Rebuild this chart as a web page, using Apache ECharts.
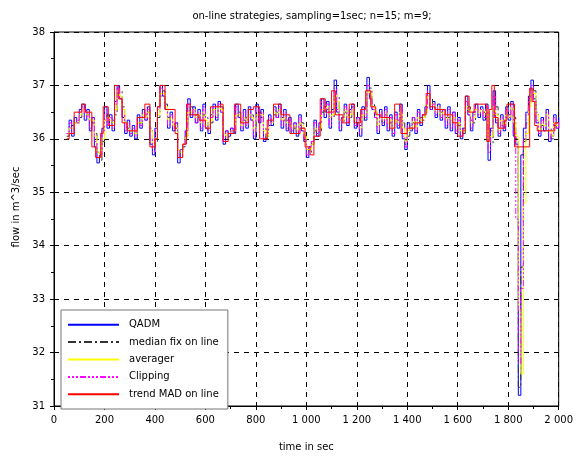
<!DOCTYPE html>
<html>
<head>
<meta charset="utf-8">
<script src="https://cdn.jsdelivr.net/npm/echarts@6/dist/echarts.min.js"></script>
<style>
  html, body { margin: 0; padding: 0; background: #fff; }
  #main { width: 576px; height: 457px; }
</style>
</head>
<body>
<div id="main"></div>
<script>
// sampling grid of the filtered signals: every 10 s from 50 s to 2000 s
const tStart = 50, tStep = 10;

const qadm = [
  36.10, 36.35, 36.05, 36.40, 36.30,
  36.55, 36.65, 36.35, 36.55, 36.15, 36.40, 35.85, 35.55, 35.70, 36.20,
  36.60, 36.20, 36.45, 36.15, 36.70, 37.00, 36.75, 36.40, 36.10, 36.35,
  36.05, 36.25, 36.00, 36.45, 36.20, 36.55, 36.35, 36.60, 35.90, 35.70,
  36.20, 36.60, 37.00, 36.80, 36.55, 36.20, 36.50, 36.15, 36.30, 35.55,
  35.80, 35.90, 36.15, 36.75, 36.40, 36.60, 36.30, 36.55, 36.15, 36.65,
  36.20, 36.10, 36.45, 36.65, 36.35, 36.70, 36.50, 35.90, 36.15, 36.05,
  36.20, 36.10, 36.65, 36.40, 36.15, 36.55, 36.20, 36.60, 36.35, 36.00,
  36.65, 36.30, 36.55, 35.95, 36.05, 36.45, 36.25, 36.60, 36.40, 36.65,
  36.20, 36.55, 36.15, 36.40, 36.10, 36.30, 36.05, 36.45, 36.15, 35.95,
  35.65, 35.85, 35.95, 36.35, 36.05, 36.30, 36.75, 36.40, 36.70, 36.20,
  36.55, 37.10, 36.50, 36.15, 36.40, 36.65, 36.25, 36.55, 36.65, 36.20,
  36.40, 36.05, 36.60, 36.35, 37.15, 36.75, 36.55, 36.40, 36.10, 36.55,
  36.25, 36.60, 36.15, 36.45, 36.05, 36.50, 36.20, 36.65, 36.00, 35.80,
  36.30, 36.15, 36.40, 36.10, 36.55, 36.25, 36.45, 36.60, 37.00, 36.55,
  36.70, 36.40, 36.65, 36.35, 36.55, 36.20, 36.60, 36.15, 36.50, 36.10,
  36.40, 36.00, 36.20, 36.80, 36.45, 36.15, 36.50, 36.65, 36.40, 36.60,
  36.35, 36.65, 35.60, 36.20, 36.90, 36.30, 36.05, 36.45, 36.15, 36.60,
  36.35, 36.70, 36.05, 35.90, 31.20, 35.70, 36.20, 36.50, 36.80, 37.10,
  36.75, 36.30, 36.05, 36.40, 36.15, 36.55, 35.95, 36.05, 36.45, 36.20,
  36.40
];

const medianFix = [
  36.05, 36.20, 36.25, 36.30, 36.35,
  36.40, 36.55, 36.50, 36.45, 36.35, 36.30, 36.10, 35.75, 35.60, 35.95,
  36.35, 36.45, 36.30, 36.35, 36.45, 36.85, 36.90, 36.60, 36.30, 36.20,
  36.20, 36.15, 36.10, 36.25, 36.30, 36.40, 36.45, 36.50, 36.20, 35.80,
  35.95, 36.40, 36.80, 36.90, 36.65, 36.40, 36.35, 36.30, 36.20, 35.80,
  35.65, 35.85, 36.05, 36.45, 36.60, 36.50, 36.45, 36.40, 36.35, 36.45,
  36.40, 36.15, 36.30, 36.55, 36.50, 36.55, 36.60, 36.15, 36.00, 36.10,
  36.15, 36.15, 36.40, 36.50, 36.30, 36.35, 36.40, 36.40, 36.45, 36.20,
  36.35, 36.50, 36.40, 36.20, 36.00, 36.25, 36.35, 36.45, 36.50, 36.55,
  36.40, 36.35, 36.35, 36.30, 36.25, 36.20, 36.15, 36.25, 36.30, 36.05,
  35.80, 35.75, 35.90, 36.15, 36.20, 36.15, 36.50, 36.60, 36.55, 36.45,
  36.40, 36.80, 36.80, 36.35, 36.30, 36.50, 36.45, 36.40, 36.60, 36.40,
  36.30, 36.25, 36.35, 36.50, 36.85, 36.95, 36.65, 36.50, 36.25, 36.30,
  36.40, 36.45, 36.35, 36.30, 36.25, 36.30, 36.35, 36.40, 36.30, 35.90,
  36.05, 36.25, 36.30, 36.25, 36.30, 36.40, 36.35, 36.50, 36.80, 36.75,
  36.60, 36.55, 36.55, 36.50, 36.45, 36.40, 36.40, 36.35, 36.30, 36.30,
  36.25, 36.20, 36.10, 36.50, 36.60, 36.35, 36.30, 36.55, 36.55, 36.50,
  36.50, 36.50, 36.05, 35.90, 36.55, 36.60, 36.20, 36.25, 36.30, 36.40,
  36.45, 36.55, 36.40, 36.00, 31.35, 33.60, 35.95, 36.30, 36.65, 36.95,
  36.90, 36.50, 36.20, 36.25, 36.30, 36.35, 36.20, 36.00, 36.25, 36.30,
  36.30
];

const averager = [
  36.10, 36.20, 36.20, 36.30, 36.30,
  36.45, 36.55, 36.50, 36.45, 36.35, 36.35, 36.05, 35.75, 35.70, 36.00,
  36.35, 36.40, 36.35, 36.30, 36.55, 36.90, 36.80, 36.55, 36.30, 36.25,
  36.15, 36.15, 36.10, 36.30, 36.30, 36.45, 36.40, 36.50, 36.15, 35.85,
  36.00, 36.45, 36.85, 36.85, 36.60, 36.35, 36.40, 36.25, 36.25, 35.80,
  35.75, 35.90, 36.05, 36.50, 36.50, 36.55, 36.40, 36.45, 36.30, 36.50,
  36.35, 36.20, 36.35, 36.55, 36.45, 36.60, 36.55, 36.10, 36.05, 36.10,
  36.15, 36.15, 36.45, 36.45, 36.25, 36.40, 36.35, 36.45, 36.40, 36.15,
  36.45, 36.45, 36.45, 36.15, 36.05, 36.30, 36.30, 36.50, 36.45, 36.55,
  36.35, 36.40, 36.30, 36.30, 36.20, 36.25, 36.15, 36.30, 36.25, 36.05,
  35.80, 35.80, 35.90, 36.20, 36.15, 36.20, 36.55, 36.55, 36.60, 36.40,
  36.45, 36.85, 36.70, 36.35, 36.35, 36.55, 36.40, 36.45, 36.55, 36.35,
  36.35, 36.20, 36.45, 36.45, 36.90, 36.85, 36.60, 36.50, 36.25, 36.40,
  36.35, 36.50, 36.30, 36.35, 36.20, 36.35, 36.30, 36.50, 36.20, 35.95,
  36.15, 36.20, 36.35, 36.20, 36.40, 36.35, 36.40, 36.50, 36.80, 36.65,
  36.65, 36.50, 36.60, 36.45, 36.50, 36.35, 36.45, 36.30, 36.40, 36.25,
  36.30, 36.15, 36.15, 36.60, 36.55, 36.30, 36.40, 36.55, 36.50, 36.55,
  36.45, 36.55, 35.95, 36.05, 36.60, 36.45, 36.15, 36.35, 36.25, 36.45,
  36.40, 36.60, 36.30, 36.05, 32.80, 31.60, 34.80, 36.10, 36.60, 36.90,
  36.85, 36.45, 36.15, 36.30, 36.25, 36.45, 36.15, 36.05, 36.30, 36.25,
  36.30
];

const clipping = [
  36.10, 36.30, 36.10, 36.35, 36.30,
  36.50, 36.60, 36.40, 36.50, 36.20, 36.40, 35.95, 35.65, 35.70, 36.15,
  36.55, 36.25, 36.40, 36.20, 36.65, 36.95, 36.75, 36.45, 36.15, 36.30,
  36.10, 36.20, 36.05, 36.40, 36.25, 36.50, 36.35, 36.55, 36.00, 35.75,
  36.15, 36.55, 36.95, 36.80, 36.55, 36.25, 36.45, 36.20, 36.30, 35.65,
  35.80, 35.90, 36.15, 36.65, 36.45, 36.55, 36.30, 36.50, 36.20, 36.60,
  36.25, 36.15, 36.40, 36.60, 36.40, 36.65, 36.50, 35.95, 36.15, 36.10,
  36.20, 36.15, 36.60, 36.40, 36.20, 36.50, 36.25, 36.55, 36.35, 36.05,
  36.60, 36.35, 36.50, 36.00, 36.10, 36.40, 36.30, 36.55, 36.40, 36.60,
  36.25, 36.50, 36.20, 36.35, 36.15, 36.30, 36.10, 36.40, 36.20, 36.00,
  35.70, 35.85, 35.95, 36.30, 36.10, 36.30, 36.70, 36.45, 36.65, 36.25,
  36.50, 36.95, 36.55, 36.20, 36.40, 36.60, 36.30, 36.50, 36.60, 36.25,
  36.40, 36.10, 36.55, 36.40, 37.00, 36.75, 36.55, 36.40, 36.15, 36.50,
  36.30, 36.55, 36.20, 36.40, 36.10, 36.45, 36.25, 36.60, 36.05, 35.85,
  36.25, 36.20, 36.40, 36.15, 36.50, 36.30, 36.45, 36.55, 36.90, 36.55,
  36.65, 36.45, 36.60, 36.40, 36.55, 36.25, 36.55, 36.20, 36.50, 36.15,
  36.35, 36.05, 36.20, 36.70, 36.45, 36.20, 36.45, 36.60, 36.45, 36.55,
  36.40, 36.60, 35.75, 36.15, 36.80, 36.35, 36.10, 36.40, 36.20, 36.55,
  36.40, 36.65, 36.10, 34.50, 31.80, 33.20, 36.00, 36.45, 36.75, 37.00,
  36.70, 36.35, 36.10, 36.35, 36.20, 36.50, 36.00, 36.10, 36.40, 36.20,
  36.35
];

// trend MAD holds its value between these change times
const trendTimes = [
  50, 60, 80, 110, 125, 150, 165, 185, 195, 215, 240, 255, 270, 290, 330,
  360, 380, 400, 410, 420, 440, 480, 490, 510, 525, 540, 575, 600, 620, 660,
  670, 690, 715, 740, 770, 790, 815, 845, 870, 900, 935, 975, 995, 1015, 1030,
  1055, 1075, 1100, 1115, 1145, 1170, 1190, 1215, 1235, 1255, 1275, 1295, 1330, 1350, 1375,
  1400, 1430, 1460, 1475, 1490, 1510, 1550, 1580, 1600, 1620, 1630, 1645, 1665, 1715, 1725,
  1735, 1745, 1760, 1785, 1795, 1825, 1885, 1895, 1905, 1915, 1985, 2000
];
const trendValues = [
  36.00, 36.10, 36.50, 36.65, 36.50, 35.85, 35.65, 36.10, 36.60, 36.25, 37.00, 36.75, 36.30, 36.15, 36.40,
  36.65, 35.85, 36.00, 36.60, 37.00, 36.55, 36.10, 35.65, 35.90, 36.65, 36.45, 36.35, 36.20, 36.60, 36.65,
  35.95, 36.10, 36.65, 36.30, 36.55, 36.60, 36.00, 36.35, 36.65, 36.45, 36.10, 36.20, 35.85, 35.70, 36.05,
  36.75, 36.50, 36.90, 36.45, 36.30, 36.65, 36.30, 36.55, 36.90, 36.60, 36.45, 36.40, 36.20, 36.65, 36.10,
  36.20, 36.30, 36.45, 36.85, 36.60, 36.55, 36.45, 36.30, 36.05, 36.15, 36.80, 36.50, 36.65, 35.95, 36.55,
  37.00, 36.40, 36.20, 36.35, 36.65, 35.85, 36.95, 36.70, 36.25, 36.15, 36.30, 36.30
];

const xTicks = { min: 0, max: 2000, interval: 200 };
const yTicks = { min: 31, max: 38, interval: 1 };

const font = '"DejaVu Sans", sans-serif';

function onGrid(values) {
  return values.map((v, i) => [tStart + i * tStep, v]);
}
function pairs(ts, vs) {
  return ts.map((t, i) => [t, vs[i]]);
}
function spaced(v) {
  return String(v).replace(/\B(?=(\d{3})+(?!\d))/g, ' ');
}

const chart = echarts.init(document.getElementById('main'));

const dashed = { show: true, lineStyle: { color: '#000', type: [5, 5], width: 1 } };

const baseLine = {
  type: 'line',
  symbol: 'none',
  step: 'end',
  silent: true
};

chart.setOption({
  animation: false,
  backgroundColor: '#fff',
  textStyle: { fontFamily: font },
  title: {
    text: 'on-line strategies, sampling=1sec; n=15; m=9;',
    left: 307,
    top: 6,
    textAlign: 'center',
    textStyle: { fontSize: 10, fontWeight: 'normal', color: '#000', fontFamily: font }
  },
  grid: {
    left: 54, right: 15, top: 32, bottom: 46,
    show: true, borderColor: '#000', borderWidth: 1
  },
  legend: {
    orient: 'vertical',
    left: 61,
    top: 310,
    itemWidth: 51,
    itemHeight: 10,
    itemGap: 7.4,
    padding: [9.7, 9, 9.7, 6],
    borderColor: '#777',
    borderWidth: 1,
    backgroundColor: '#fff',
    itemStyle: { opacity: 0 },
    textStyle: { fontSize: 10, color: '#000', fontFamily: font, padding: [0, 0, 0, 5] }
  },
  xAxis: {
    type: 'value',
    min: xTicks.min, max: xTicks.max, interval: xTicks.interval,
    name: 'time in sec',
    nameLocation: 'middle',
    nameGap: 36,
    nameTextStyle: { fontSize: 10, color: '#000', fontFamily: font },
    axisLine: { lineStyle: { color: '#000', width: 1 } },
    axisTick: { show: true, length: 4, lineStyle: { color: '#000' } },
    minorTick: { show: true, splitNumber: 2, length: 3, lineStyle: { color: '#000' } },
    axisLabel: { fontSize: 10, color: '#000', margin: 9, fontFamily: font, formatter: spaced },
    splitLine: dashed
  },
  yAxis: {
    type: 'value',
    min: yTicks.min, max: yTicks.max, interval: yTicks.interval,
    axisLine: { show: true, lineStyle: { color: '#000', width: 1 } },
    axisTick: { show: true, length: 4, lineStyle: { color: '#000' } },
    minorTick: { show: true, splitNumber: 2, length: 3, lineStyle: { color: '#000' } },
    axisLabel: { fontSize: 10, color: '#000', margin: 9, fontFamily: font },
    splitLine: dashed
  },
  graphic: [{
    type: 'text',
    x: 16,
    y: 207,
    rotation: Math.PI / 2,
    style: {
      text: 'flow in m^3/sec',
      fontSize: 10,
      fontFamily: font,
      fill: '#000',
      align: 'center',
      verticalAlign: 'middle'
    }
  }],
  series: [
    Object.assign({}, baseLine, {
      name: 'QADM',
      data: onGrid(qadm),
      lineStyle: { color: '#0000ff', width: 1 },
      itemStyle: { color: '#0000ff' }
    }),
    Object.assign({}, baseLine, {
      name: 'median fix on line',
      data: onGrid(medianFix),
      lineStyle: { color: '#333333', width: 1, type: [8, 3, 2, 3] },
      itemStyle: { color: '#333333' }
    }),
    Object.assign({}, baseLine, {
      name: 'averager',
      data: onGrid(averager),
      lineStyle: { color: '#ffff00', width: 1 },
      itemStyle: { color: '#ffff00' }
    }),
    Object.assign({}, baseLine, {
      name: 'Clipping',
      data: onGrid(clipping),
      lineStyle: { color: '#ff00ff', width: 1, type: [2, 2, 2, 2, 2, 2, 6, 2] },
      itemStyle: { color: '#ff00ff' }
    }),
    Object.assign({}, baseLine, {
      name: 'trend MAD on line',
      data: pairs(trendTimes, trendValues),
      lineStyle: { color: '#ff0000', width: 1 },
      itemStyle: { color: '#ff0000' }
    })
  ]
});
</script>
</body>
</html>
